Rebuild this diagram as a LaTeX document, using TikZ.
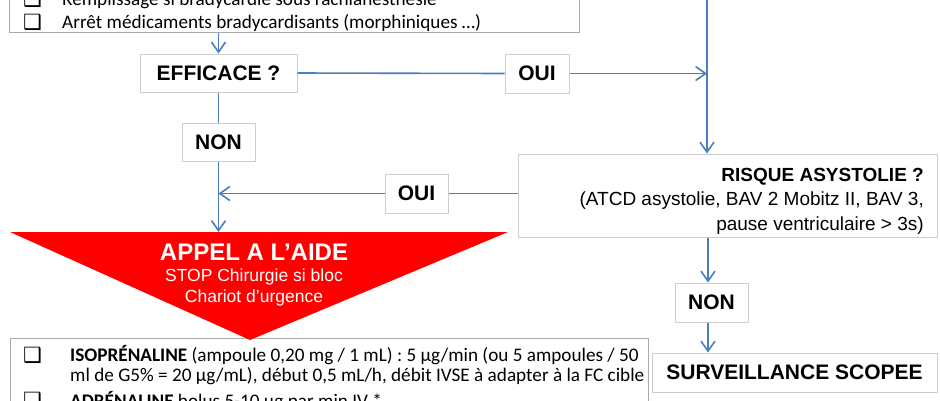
\documentclass[tikz,border=0pt]{standalone}
\usepackage{fontspec}
\setmainfont{Carlito}
\newfontfamily\arialf{Liberation Sans}
\newfontfamily\dejavu{DejaVu Sans}
\usetikzlibrary{arrows.meta}
\definecolor{arrowblue}{RGB}{74,126,188}
\definecolor{boxgray}{RGB}{205,205,205}
\definecolor{framegray}{RGB}{170,170,170}
\definecolor{alertred}{RGB}{255,0,0}
\begin{document}
\begin{tikzpicture}[x=1pt,y=-1pt,
  lbl/.style={draw=boxgray, line width=1pt, fill=white, inner sep=0pt, font=\arialf\bfseries\fontsize{21}{25}\selectfont},
  framebox/.style={draw=framegray, line width=1pt, fill=white, inner sep=0pt},
  body/.style={font=\fontsize{19.2}{20}\selectfont, anchor=base west, inner sep=0pt},
  chk/.style={font=\dejavu\fontsize{21}{21}\selectfont, anchor=base west, inner sep=0pt},
  arr/.style={draw=arrowblue, line width=1.6pt, -{Straight Barb[length=10pt,width=14pt]}},
  con/.style={draw=arrowblue, line width=1.6pt},
]
\useasboundingbox (0,0) rectangle (940,400);
\clip (0,0) rectangle (940,400);
\fill[white] (0,0) rectangle (940,400);

% top box
\node[framebox, minimum width=570, minimum height=70, anchor=south west] (topbox) at (9,33) {};
\node[chk] (c1) at (23,6) {❑};
\node[body] (t1) at (62,5.5) {Remplissage si bradycardie sous rachianesthésie};
\node[chk] (c2) at (23,29) {❑};
\node[body] (t2) at (62,28.5) {Arrêt médicaments bradycardisants (morphiniques …)};

% labels
\node[lbl, minimum width=157, minimum height=38] (eff) at (218.5,73) {EFFICACE ?};
\node[lbl, minimum width=64, minimum height=39] (oui1) at (537,73.5) {OUI};
\node[lbl, minimum width=73, minimum height=38] (non1) at (218.5,142) {NON};
\node[lbl, minimum width=63, minimum height=39] (oui2) at (416.5,193.5) {OUI};
\node[draw=boxgray, line width=1pt, fill=white, minimum width=419, minimum height=83] (risk) at (727.5,195.5) {};
\node[anchor=north east, inner sep=0pt, align=right, font=\arialf\fontsize{19}{24.5}\selectfont] (risktxt) at (924,168)
      {\textbf{RISQUE ASYSTOLIE ?}\\(ATCD asystolie, BAV 2 Mobitz II, BAV 3,\\pause ventriculaire > 3s)};
\node[lbl, minimum width=73, minimum height=39] (non2) at (711.5,302.5) {NON};
\node[lbl, minimum width=285, minimum height=39] (surv) at (794.5,372.5) {SURVEILLANCE SCOPEE};

% bottom box
\node[framebox, minimum width=638, minimum height=100, anchor=north west] (botbox) at (10,338) {};
\node[chk] (c3) at (23,362) {❑};
\node[body] (b1) at (70,361.5) {\textbf{ISOPRÉNALINE} (ampoule 0,20 mg / 1 mL) : 5 µg/min (ou 5 ampoules / 50};
\node[body] (b2) at (70,381.5) {ml de G5\% = 20 µg/mL), début 0,5 mL/h, débit IVSE à adapter à la FC cible};
\node[chk] (c4) at (23,407.5) {❑};
\node[body] (b3) at (70,407) {\textbf{ADRÉNALINE} bolus 5-10 µg par min IV *};

% red triangle
\coordinate (tl) at (10,232);
\coordinate (tr) at (508,232);
\coordinate (tip) at (250,340);
\fill[alertred] (tl) -- (tr) -- (tip) -- cycle;
\node[font=\arialf\bfseries\fontsize{24}{28}\selectfont, text=white, inner sep=0pt] (appel) at (254,252) {APPEL A L’AIDE};
\node[font=\arialf\fontsize{17.5}{21}\selectfont, text=white, align=center, inner sep=0pt] (stop) at (254,287.5) {STOP Chirurgie si bloc\\Chariot d’urgence};

% connectors
\coordinate (vtop) at (707,-2);
\coordinate (vr) at (708,0);
\coordinate (trin) at (218.5,232);
\draw[arr] (topbox.south -| eff) -- (eff.north);
\draw[con] (eff.east) -- (oui1.west);
\draw[arr] (oui1.east) -- (oui1 -| vtop);
\draw[arr] (vtop) -- (risk.north -| vtop);
\draw[con] (eff.south) -- (non1.north);
\draw[arr] (non1.south) -- (trin);
\draw[con] (risk.west |- oui2) -- (oui2.east);
\draw[arr] (oui2.west) -- (oui2 -| non1);
\draw[arr] (risk.south -| vr) -- (non2.north -| vr);
\draw[arr] (non2.south -| vr) -- (surv.north -| vr);
\end{tikzpicture}
\end{document}
